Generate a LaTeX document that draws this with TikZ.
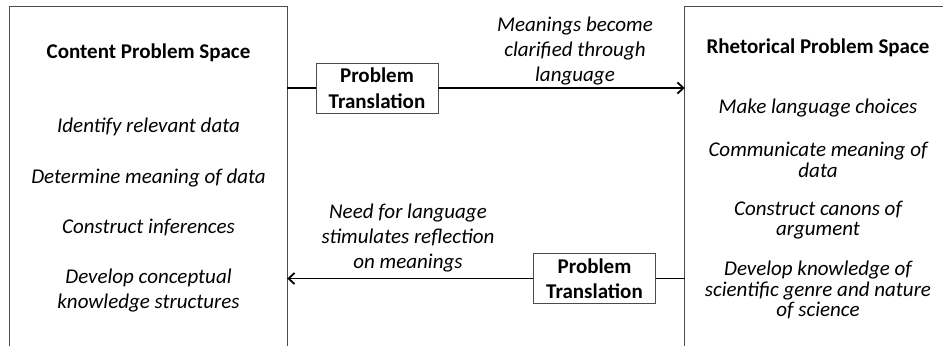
\documentclass[tikz,border=0pt]{standalone}
\usepackage{fontspec}
\setmainfont{Carlito}
\usetikzlibrary{arrows.meta}
\begin{document}
\begin{tikzpicture}[x=1pt,y=-1pt,
    frame/.style={draw=black!70,line width=0.8pt},
    panel/.style={inner sep=0pt,minimum width=#1,minimum height=339pt},
    head/.style={font=\bfseries\fontsize{21}{25}\selectfont},
    item/.style={align=center,font=\itshape\fontsize{21}{25}\selectfont},
    ritem/.style={align=center,font=\itshape\fontsize{21}{20.5}\selectfont},
    transbox/.style={draw=black!70,line width=0.8pt,align=center,inner sep=0pt,
        minimum width=122pt,minimum height=50pt,font=\bfseries\fontsize{21}{25.5}\selectfont},
    link/.style={line width=1.8pt},
    flow/.style={-{Straight Barb[length=6pt,width=11pt]},line width=1.8pt}]
    \useasboundingbox (0,0) rectangle (943,346);

    % Panels
    \node [panel=277pt] (content) at (148.5,176.5) {};
    \draw [frame] (content.south west) |- (content.north east) -- (content.south east);
    \node [panel=266pt] (rhet) at (818,176.5) {};
    \draw [frame] (rhet.south west) |- (rhet.north east) -- (rhet.south east);

    % Content side
    \node [head] (chead) at (148.5,53) {Content Problem Space};
    \node [item] (c1) at (148.5,127) {Identify relevant data};
    \node [item] (c2) at (148.5,178) {Determine meaning of data};
    \node [item] (c3) at (148.5,228) {Construct inferences};
    \node [item] (c4) at (148.5,291) {Develop conceptual\\knowledge structures};

    % Rhetorical side
    \node [head] (rhead) at (818,48) {Rhetorical Problem Space};
    \node [ritem] (r1) at (818,108) {Make language choices};
    \node [ritem] (r2) at (818,160) {Communicate meaning of\\data};
    \node [ritem] (r3) at (818,220) {Construct canons of\\argument};
    \node [ritem] (r4) at (818,290) {Develop knowledge of\\scientific genre and nature\\of science};

    % Translations
    \node [transbox] (trans1) at (377,88) {Problem\\Translation};
    \draw [link] (content.east |- trans1) -- (trans1);
    \draw [flow] (trans1) -- (rhet.west |- trans1);
    \node [item] (lab1) at (575,51) {Meanings become\\clarified through\\language};

    \node [transbox] (trans2) at (594.5,278.5) {Problem\\Translation};
    \draw [link] (rhet.west |- trans2) -- (trans2);
    \draw [flow] (trans2) -- (content.east |- trans2);
    \node [item] (lab2) at (408,238.5) {Need for language\\stimulates reflection\\on meanings};
\end{tikzpicture}
\end{document}
